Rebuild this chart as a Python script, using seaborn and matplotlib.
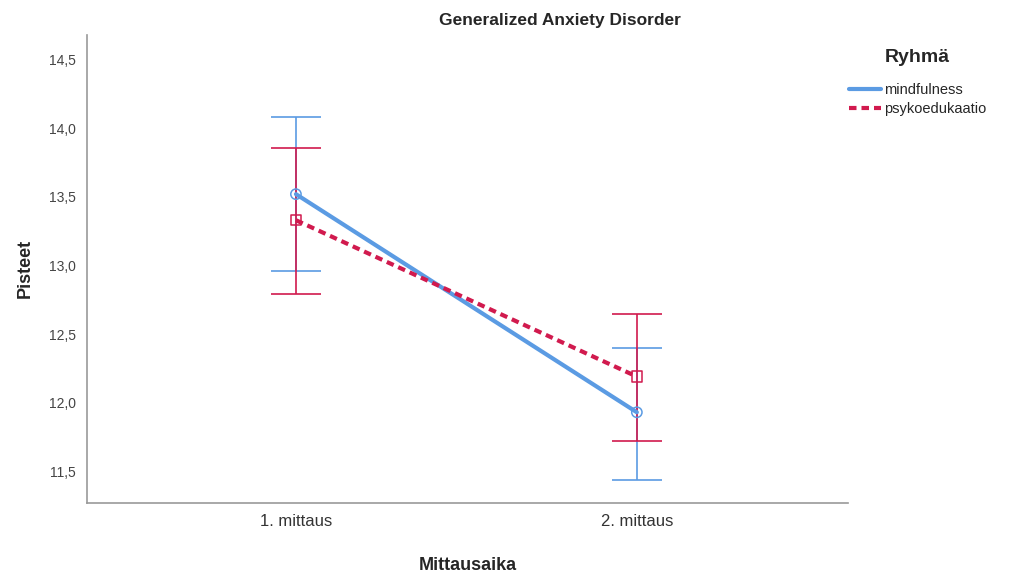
import matplotlib
matplotlib.use("Agg")
import matplotlib.pyplot as plt
import seaborn as sns
import pandas as pd
from matplotlib.lines import Line2D

times = ["1. mittaus", "2. mittaus"]
groups = ["mindfulness", "psykoedukaatio"]
mind_mean = [13.52, 11.93]
mind_low = [12.96, 11.44]
mind_high = [14.08, 12.40]
psyk_mean = [13.33, 12.19]
psyk_low = [12.79, 11.72]
psyk_high = [13.86, 12.65]
yticks = [11.5, 12.0, 12.5, 13.0, 13.5, 14.0, 14.5]

sns.set_theme(style="white")
plt.rcParams['font.family'] = ['Liberation Sans', 'DejaVu Sans']

blue = "#5B9BE3"
red = "#D11A4E"
dash = (1.8, 1.2)

df = pd.DataFrame({
    "Mittausaika": [0, 1, 0, 1],
    "Pisteet": mind_mean + psyk_mean,
    "Ryhmä": [groups[0]] * 2 + [groups[1]] * 2,
})

fig = plt.figure(figsize=(10.11, 5.74), dpi=100)
ax = fig.add_axes([0.086, 0.124, 0.753, 0.815])

# error bars
for means, lo, hi, col in [(mind_mean, mind_low, mind_high, blue),
                           (psyk_mean, psyk_low, psyk_high, red)]:
    yerr = [[m - l for m, l in zip(means, lo)], [h - m for m, h in zip(means, hi)]]
    ax.errorbar([0, 1], means, yerr=yerr, fmt="none", ecolor=col,
                elinewidth=1.2, capsize=18, capthick=1.2, zorder=2)

sns.lineplot(data=df, x="Mittausaika", y="Pisteet", hue="Ryhmä", style="Ryhmä",
             palette={groups[0]: blue, groups[1]: red},
             dashes={groups[0]: "", groups[1]: dash},
             markers=False, linewidth=3, ax=ax, legend=False, zorder=3)

for g, mk, col in [(groups[0], "o", blue), (groups[1], "s", red)]:
    sub = df[df["Ryhmä"] == g]
    ax.scatter(sub["Mittausaika"], sub["Pisteet"], marker=mk, s=55,
               facecolors="none", edgecolors=col, linewidths=1.1, zorder=4)

ax.set_xlim(-0.613, 1.62)
ax.set_ylim(11.27, 14.68)
ax.set_xticks([0, 1])
ax.set_xticklabels(times, fontsize=12, color="#333333")
ax.set_yticks(yticks)
ax.set_yticklabels([f"{v:.1f}".replace(".", ",") for v in yticks], fontsize=10, color="#444444")
ax.tick_params(axis="both", length=0, pad=8)
ax.tick_params(axis="y", pad=8)
for s in ["top", "right"]:
    ax.spines[s].set_visible(False)
for s in ["left", "bottom"]:
    ax.spines[s].set_color("#999999")
    ax.spines[s].set_linewidth(1.2)
ax.grid(False)

ax.set_xlabel("Mittausaika", fontsize=13, fontweight="bold", labelpad=20)
ax.set_ylabel("Pisteet", fontsize=13, fontweight="bold")
ax.yaxis.set_label_coords(-0.07, 0.5)
fig.text(560 / 1011, 1 - 20 / 574, "Generalized Anxiety Disorder", ha="center", va="center",
         fontsize=12.5, fontweight="bold")

handles = [Line2D([], [], color=blue, linewidth=3),
           Line2D([], [], color=red, linewidth=3, linestyle=(0, dash))]
leg = fig.legend(handles, groups, title="Ryhmä", loc="upper left",
                 bbox_to_anchor=(836 / 1011, 1 - 36 / 574), frameon=False,
                 fontsize=10.5, handlelength=2.2, handletextpad=0.2,
                 labelspacing=0.35)
leg.get_title().set_fontweight("bold")
leg.get_title().set_fontsize(14)
leg._legend_box.align = "center"
leg._legend_box.sep = 12

fig.savefig("out.png", dpi=100)
